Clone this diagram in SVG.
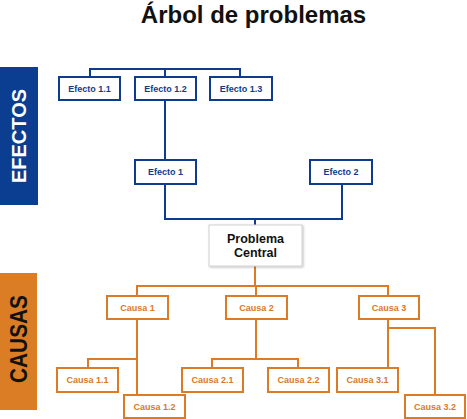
<svg xmlns="http://www.w3.org/2000/svg" width="467" height="419" viewBox="0 0 467 419">
<defs>
<style>
.b{fill:#fff;stroke:#0d3c8e;stroke-width:2}
.o{fill:#fff;stroke:#dc7b26;stroke-width:2}
.bl{fill:none;stroke:#0d3c8e;stroke-width:2}
.ol{fill:none;stroke:#dc7b26;stroke-width:2}
.bt{font-family:"Liberation Sans",Arial,sans-serif;font-size:9px;font-weight:bold;fill:#0d3c8e;text-anchor:middle}
.ot{font-family:"Liberation Sans",Arial,sans-serif;font-size:9px;font-weight:bold;fill:#d9792a;text-anchor:middle}
.pc{font-family:"Liberation Sans",Arial,sans-serif;font-size:12.5px;font-weight:bold;fill:#111;text-anchor:middle}
</style>
<filter id="sh" x="-20%" y="-20%" width="140%" height="140%">
<feDropShadow dx="1" dy="1" stdDeviation="1" flood-color="#000" flood-opacity="0.25"/>
</filter>
</defs>
<rect width="467" height="419" fill="#fff"/>
<text x="253.5" y="23" font-family="Liberation Sans,Arial,sans-serif" font-size="24" font-weight="bold" text-anchor="middle" fill="#111">Árbol de problemas</text>

<g id="banner-efectos">
<rect x="0" y="67" width="38" height="138" fill="#0b3d91"/>
<text transform="translate(26,136) rotate(-90)" font-family="Liberation Sans,Arial,sans-serif" font-size="21" font-weight="bold" fill="#fff" text-anchor="middle" textLength="94" lengthAdjust="spacingAndGlyphs">EFECTOS</text>
</g>
<g id="banner-causas">
<rect x="0" y="273" width="37" height="137" fill="#db7d25"/>
<text transform="translate(27,339) rotate(-90)" font-family="Liberation Sans,Arial,sans-serif" font-size="24" font-weight="bold" fill="#111" text-anchor="middle" textLength="88" lengthAdjust="spacingAndGlyphs">CAUSAS</text>
</g>

<g id="connectors">
<path class="bl" d="M90,77V69H240V77M165,69V77M165,100V160M165,184V219H342V184M255,219V225"/>
<path class="ol" d="M255,266V286M137,296V286H388V296M256,286V296"/>
<path class="ol" d="M137,319V395M137,359H88V368"/>
<path class="ol" d="M256,319V359M212,368V359H298V368"/>
<path class="ol" d="M388,319V368M388,328H435V395"/>
</g>

<g id="efecto-1-1"><rect class="b" x="59" y="77" width="61" height="23"/><text class="bt" x="89.5" y="92">Efecto 1.1</text></g>
<g id="efecto-1-2"><rect class="b" x="135" y="77" width="61" height="23"/><text class="bt" x="165.5" y="92">Efecto 1.2</text></g>
<g id="efecto-1-3"><rect class="b" x="210" y="77" width="62" height="23"/><text class="bt" x="241" y="92">Efecto 1.3</text></g>
<g id="efecto-1"><rect class="b" x="135" y="160" width="61" height="24"/><text class="bt" x="165.5" y="175">Efecto 1</text></g>
<g id="efecto-2"><rect class="b" x="310" y="160" width="62" height="24"/><text class="bt" x="341" y="175">Efecto 2</text></g>

<g id="problema-central">
<rect x="209" y="225" width="93" height="41" fill="#fff" stroke="#d0d0d0" stroke-width="1" filter="url(#sh)"/>
<text class="pc" x="255.5" y="242.5">Problema</text>
<text class="pc" x="255.5" y="257">Central</text>
</g>

<g id="causa-1"><rect class="o" x="107" y="296" width="61" height="23"/><text class="ot" x="137.5" y="311">Causa 1</text></g>
<g id="causa-2"><rect class="o" x="226" y="296" width="61" height="23"/><text class="ot" x="256.5" y="311">Causa 2</text></g>
<g id="causa-3"><rect class="o" x="359" y="296" width="60" height="23"/><text class="ot" x="389" y="311">Causa 3</text></g>
<g id="causa-1-1"><rect class="o" x="57" y="368" width="61" height="24"/><text class="ot" x="87.5" y="383">Causa 1.1</text></g>
<g id="causa-1-2"><rect class="o" x="124" y="395" width="61" height="23"/><text class="ot" x="154.5" y="410">Causa 1.2</text></g>
<g id="causa-2-1"><rect class="o" x="182" y="368" width="61" height="24"/><text class="ot" x="212.5" y="383">Causa 2.1</text></g>
<g id="causa-2-2"><rect class="o" x="268" y="368" width="61" height="24"/><text class="ot" x="298.5" y="383">Causa 2.2</text></g>
<g id="causa-3-1"><rect class="o" x="337" y="368" width="61" height="24"/><text class="ot" x="367.5" y="383">Causa 3.1</text></g>
<g id="causa-3-2"><rect class="o" x="405" y="395" width="60" height="23"/><text class="ot" x="435" y="410">Causa 3.2</text></g>
</svg>
